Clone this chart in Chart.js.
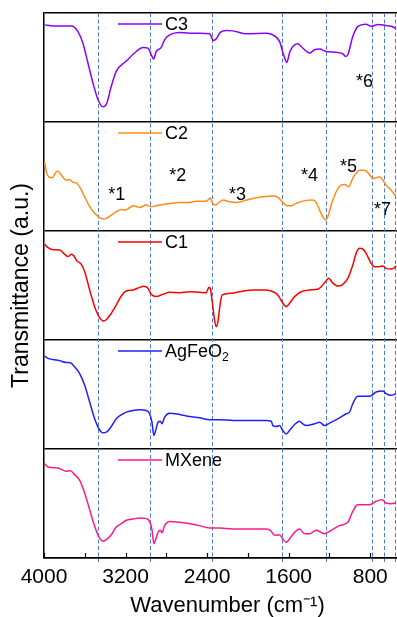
<!DOCTYPE html>
<html>
<head>
<meta charset="utf-8">
<script src="https://cdn.jsdelivr.net/npm/chart.js@4.4.1/dist/chart.umd.min.js"></script>
<style>
  html, body { margin: 0; padding: 0; background: #fff; overflow: hidden; }
  #wrap { position: relative; width: 418px; height: 617px; }
</style>
</head>
<body>
<div id="wrap"><canvas id="ftir" width="418" height="617"></canvas></div>
<script>
// spectra (wavenumber in cm-1, transmittance in panel units 0-100)
const c3Wn = [3993,3912,3732,3667,3618,3569,3520,3471,3422,3389,3340,3291,3193,3095,3029,2980,2948,2925,2899,2850,2817,2768,2670,2572,2474,2376,2337,2310,2278,2212,2147,2016,1820,1771,1690,1650,1618,1592,1559,1510,1477,1444,1395,1346,1297,1232,1069,1042,1020,971,922,840,791,725,660,595,546];
const c3T = [89.1,88.1,88.1,83.0,72.3,54.1,35.9,20.7,14.0,16.1,32.8,46.5,55.9,64.7,68.4,67.8,61.7,57.8,64.7,68.4,75.4,79.9,82.1,81.5,81.5,80.9,74.8,76.3,81.5,83.9,83.6,80.9,81.5,80.5,73.9,61.7,54.7,63.2,69.3,71.7,69.3,66.3,63.2,66.3,66.9,64.7,62.6,60.2,61.7,78.4,87.5,89.7,87.8,89.4,88.8,87.8,85.7];

const c2Wn = [3993,3977,3954,3918,3886,3863,3830,3781,3748,3722,3676,3650,3601,3552,3503,3454,3415,3389,3340,3291,3242,3209,3160,3127,3062,2997,2948,2899,2833,2768,2670,2572,2507,2425,2392,2369,2350,2317,2278,2239,2180,2114,2049,1951,1853,1755,1706,1657,1618,1575,1526,1461,1363,1330,1297,1265,1239,1216,1183,1134,1085,1052,1010,987,954,905,856,807,775,742,709,676,644,595,546];
const c2T = [63.4,54.3,49.7,48.8,53.7,54.9,51.2,46.6,47.3,45.1,43.6,40.5,31.4,22.3,16.2,12.2,11.0,11.6,14.6,17.7,19.8,19.2,21.3,23.2,21.6,23.8,22.3,23.2,24.4,25.3,26.2,26.2,27.4,27.4,28.4,30.5,26.2,23.8,26.8,28.4,26.8,26.2,27.4,29.9,31.4,32.0,30.8,26.2,23.2,23.2,25.3,27.4,28.4,26.2,19.2,13.1,10.1,13.1,23.8,36.0,42.1,42.7,40.5,45.1,51.2,55.8,55.8,51.8,48.2,48.8,49.7,46.6,42.1,37.5,31.4];

const c1Wn = [3993,3961,3912,3846,3797,3765,3732,3709,3676,3634,3601,3552,3503,3461,3415,3382,3340,3291,3242,3193,3127,3062,3023,2980,2948,2899,2833,2768,2670,2572,2474,2409,2382,2369,2350,2327,2310,2294,2271,2252,2180,2082,1951,1820,1755,1706,1663,1624,1592,1542,1477,1395,1314,1281,1239,1206,1173,1118,1069,1020,971,938,905,873,840,791,758,709,676,644,595,572,546];
const c1T = [87.8,84.7,82.9,82.6,78.6,76.5,78.6,77.4,72.5,69.4,62.7,45.9,30.6,21.4,17.4,19.3,24.5,32.1,40.4,44.9,45.9,48.3,49.2,47.4,41.9,39.8,41.9,43.7,43.4,44.3,43.7,43.4,48.3,47.4,35.2,18.3,12.2,16.8,33.6,41.3,42.8,44.3,45.9,45.9,44.3,41.3,34.6,30.6,33.6,39.8,44.3,45.9,46.5,48.9,53.5,56.6,52.9,49.5,51.1,56.6,68.8,79.5,84.1,83.5,79.5,70.3,67.3,67.3,67.9,65.7,65.1,65.7,68.2];

const agWn = [3993,3961,3863,3781,3742,3699,3650,3601,3552,3503,3461,3422,3389,3340,3291,3242,3193,3127,3062,2997,2964,2941,2922,2905,2882,2859,2843,2817,2768,2670,2572,2474,2376,2278,2147,1984,1820,1771,1755,1722,1690,1657,1624,1592,1542,1494,1461,1428,1346,1297,1248,1199,1101,1036,1003,971,922,807,742,676,644,595,546];
const agT = [85.2,83.1,81.5,79.4,79.1,75.4,69.2,58.5,43.1,27.7,18.5,14.8,15.4,20.6,27.7,31.4,33.8,35.4,36.0,35.4,32.3,24.6,12.3,16.9,24.6,25.5,23.1,29.2,32.9,31.7,29.8,28.6,26.8,26.8,26.2,26.2,26.2,25.5,21.5,20.6,21.5,16.9,13.8,16.9,22.5,25.5,23.1,21.5,23.1,24.6,21.5,23.7,28.6,32.3,33.8,41.5,48.3,48.3,52.3,53.2,50.8,49.2,50.8];

const mxWn = [3993,3961,3863,3781,3742,3699,3650,3601,3552,3503,3461,3422,3389,3340,3291,3242,3193,3127,3062,2997,2964,2941,2922,2905,2882,2859,2843,2817,2768,2670,2572,2474,2376,2278,2147,1984,1820,1771,1748,1722,1690,1657,1624,1592,1542,1494,1444,1395,1330,1281,1248,1199,1101,1020,971,922,807,742,683,644,595,546];
const mxT = [86.5,83.5,82.6,79.5,80.1,76.5,71.3,59.6,44.3,29.1,19.3,15.3,16.8,21.4,28.4,31.5,34.6,35.8,36.7,36.1,33.6,26.0,13.1,16.8,23.5,25.4,23.1,29.7,33.6,32.7,31.5,29.7,27.5,27.5,26.6,26.6,26.6,24.5,21.4,20.8,21.4,17.4,14.4,17.4,23.5,26.6,22.3,22.3,25.4,23.5,22.3,24.5,29.7,32.7,42.8,48.9,48.9,52.0,53.5,50.5,49.8,50.5];

// panels from bottom to top
const seriesNames = ['MXene', 'AgFeO₂', 'C1', 'C2', 'C3'];
const seriesWn = [mxWn, agWn, c1Wn, c2Wn, c3Wn];
const seriesT = [mxT, agT, c1T, c2T, c3T];
const seriesColors = ['#ff1a8c', '#1f1fff', '#ff0000', '#ff8c1a', '#8a00ff'];

// dashed reference lines (cm-1)
const markerWn = [3471, 2957, 2353, 1667, 1231, 784, 667, 555];

// band labels: text, panel index, wavenumber, level in panel
const bandText = ['*1', '*2', '*3', '*4', '*5', '*7', '*6'];
const bandPanel = [3, 3, 3, 3, 3, 3, 4];
const bandWn = [3287, 2689, 2101, 1395, 1013, 680, 857];
const bandLevel = [33, 50, 33, 50, 59, 19, 37];

const xTickValues = [4000, 3600, 3200, 2800, 2400, 2000, 1600, 1200, 800, 400];
const xLabelValues = [4000, 3200, 2400, 1600, 800];

const PANEL = 100;
const FONT = "'Liberation Sans', Arial, sans-serif";
Chart.defaults.font.family = FONT;
Chart.defaults.color = '#000';

const panelDecor = {
  id: 'panelDecor',
  beforeDatasetsDraw(chart) {
    const { ctx, chartArea, scales: { x } } = chart;
    ctx.save();
    ctx.strokeStyle = '#4a7bd0';
    ctx.lineWidth = 1;
    ctx.setLineDash([4, 2.5]);
    markerWn.forEach(w => {
      const px = Math.round(x.getPixelForValue(w)) + 0.5;
      ctx.beginPath();
      ctx.moveTo(px, chartArea.top);
      ctx.lineTo(px, chartArea.bottom + 4);
      ctx.stroke();
    });
    ctx.restore();
  },
  afterDraw(chart) {
    const { ctx, chartArea, scales: { x, y } } = chart;
    ctx.save();

    // inward tick marks on the bottom axis
    ctx.strokeStyle = '#000';
    ctx.lineWidth = 1.2;
    xTickValues.forEach(v => {
      const px = Math.round(x.getPixelForValue(v)) + 0.5;
      ctx.beginPath();
      ctx.moveTo(px, chartArea.bottom);
      ctx.lineTo(px, chartArea.bottom - 5);
      ctx.stroke();
    });

    // one legend entry in each panel
    ctx.font = '18px ' + FONT;
    ctx.textBaseline = 'middle';
    ctx.textAlign = 'left';
    seriesNames.forEach((name, i) => {
      const top = y.getPixelForValue((i + 1) * PANEL);
      const ly = top + 11;
      ctx.strokeStyle = seriesColors[i];
      ctx.lineWidth = 1.5;
      ctx.beginPath();
      ctx.moveTo(chartArea.left + 74, ly);
      ctx.lineTo(chartArea.left + 118, ly);
      ctx.stroke();
      ctx.fillStyle = '#000';
      const tx = chartArea.left + 121;
      if (name.endsWith('₂')) {
        const base = name.slice(0, -1);
        ctx.fillText(base, tx, ly + 1);
        const w = ctx.measureText(base).width;
        ctx.font = '12px ' + FONT;
        ctx.fillText('2', tx + w, ly + 7);
        ctx.font = '18px ' + FONT;
      } else {
        ctx.fillText(name, tx, ly + 1);
      }
    });

    // band annotations
    ctx.textAlign = 'center';
    ctx.fillStyle = '#000';
    bandText.forEach((t, i) => {
      const px = x.getPixelForValue(bandWn[i]);
      const py = y.getPixelForValue(bandPanel[i] * PANEL + bandLevel[i]);
      ctx.fillText(t, px, py);
    });
    ctx.restore();
  }
};

const datasets = seriesNames.map((name, i) => ({
  label: name,
  data: seriesWn[i].map((w, k) => ({ x: w, y: seriesT[i][k] + i * PANEL })),
  borderColor: seriesColors[i],
  borderWidth: 1.5,
  pointRadius: 0,
  cubicInterpolationMode: 'monotone',
  fill: false
}));

new Chart(document.getElementById('ftir'), {
  type: 'line',
  data: { datasets },
  options: {
    responsive: false,
    animation: false,
    layout: { padding: { top: 13, right: 0, bottom: 0, left: 0 } },
    plugins: { legend: { display: false }, tooltip: { enabled: false } },
    scales: {
      x: {
        type: 'linear',
        reverse: true,
        min: 400,
        max: 4000,
        afterBuildTicks: s => { s.ticks = xTickValues.map(v => ({ value: v })); },
        afterFit: s => { s.height = 59; },
        ticks: {
          autoSkip: false,
          maxRotation: 0,
          padding: 7,
          font: { size: 21 },
          callback: v => (xLabelValues.includes(v) ? String(v) : '')
        },
        grid: { display: false, drawTicks: false },
        border: { color: '#000', width: 1.5 },
        title: {
          display: true,
          text: 'Wavenumber (cm⁻¹)',
          font: { size: 22, lineHeight: 1 },
          padding: { top: 0, bottom: 0 }
        }
      },
      y: {
        min: 0,
        max: 5 * PANEL,
        afterBuildTicks: s => { s.ticks = [0, 1, 2, 3, 4, 5].map(k => ({ value: k * PANEL })); },
        afterFit: s => { s.width = 44; },
        ticks: { display: false },
        grid: { color: '#000', lineWidth: 1.5, drawTicks: false },
        border: { color: '#000', width: 1.5 },
        title: {
          display: true,
          text: 'Transmittance (a.u.)',
          font: { size: 23, lineHeight: 1.2 },
          padding: { top: 8, bottom: 0 }
        }
      }
    }
  },
  plugins: [panelDecor]
});
</script>
</body>
</html>
